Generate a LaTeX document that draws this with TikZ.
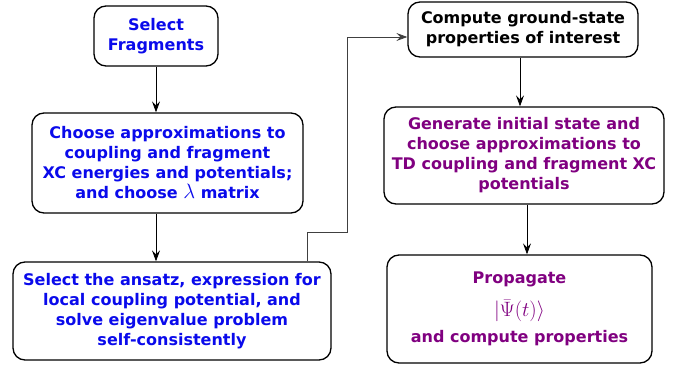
\documentclass[tikz,border=0pt]{standalone}
\usepackage{fontspec}
\setmainfont{DejaVu Sans}
\usetikzlibrary{arrows.meta}
\definecolor{stepblue}{RGB}{10,10,235}
\definecolor{steppurple}{RGB}{128,0,128}
\tikzset{
  stepbox/.style={draw=black, line width=1.3pt, rounded corners=12pt, align=center,
    font=\fontsize{16}{20}\selectfont\bfseries, inner sep=0pt},
  flow/.style={-{Stealth[length=11pt,width=8pt,inset=4pt]}, line width=0.8pt, black},
  loopback/.style={-{Stealth[length=11pt,width=8pt,inset=4pt]}, line width=0.8pt, black!75},
}
\begin{document}
\begin{tikzpicture}[x=1pt, y=-1pt]
  \useasboundingbox (0,0) rectangle (680,369);

  % ground-state branch (left column)
  \node[stepbox, text=stepblue, minimum width=124pt, minimum height=60pt] (sel) at (156,36)
    {Select\\Fragments};
  \node[stepbox, text=stepblue, minimum width=271pt, minimum height=100pt] (xc) at (167.5,163)
    {Choose approximations to\\coupling and fragment\\XC energies and potentials;\\and choose {\fontsize{21}{20}\selectfont$\lambda$} matrix};
  \node[stepbox, text=stepblue, minimum width=318pt, minimum height=98pt] (scf) at (172,311)
    {Select the ansatz, expression for\\local coupling potential, and\\solve eigenvalue problem\\self-consistently};

  % properties and time-dependent branch (right column)
  \node[stepbox, text=black, minimum width=230pt, minimum height=55pt] (gs) at (523,29.5)
    {Compute ground-state\\properties of interest};
  \node[stepbox, text=steppurple, minimum width=280pt, minimum height=97pt] (td) at (524,155.5)
    {Generate initial state and\\choose approximations to\\TD coupling and fragment XC\\potentials};
  \node[stepbox, text=steppurple, minimum width=265pt, minimum height=108pt] (prop) at (519.5,309)
    {Propagate\\[12pt]{\fontsize{22}{24}\selectfont$|\bar{\Psi}(t)\rangle$}\\[6pt]and compute properties};

  % connectors
  \draw[flow] (sel.south) -- (sel.south |- xc.north);
  \draw[flow] (xc.south -| sel.south) -- (scf.north -| sel.south);
  \coordinate (up1) at (307,232);
  \coordinate (up2) at (347,37);
  \draw[loopback] (scf.north -| up1) -- (up1) -- (up1 -| up2) -- (up2) -- (up2 -| gs.west);
  \draw[flow] ([xshift=-3pt]gs.south) -- ([xshift=-3pt]gs.south |- td.north);
  \draw[flow] ([xshift=3pt]td.south) -- ([xshift=3pt]td.south |- prop.north);
\end{tikzpicture}
\end{document}
